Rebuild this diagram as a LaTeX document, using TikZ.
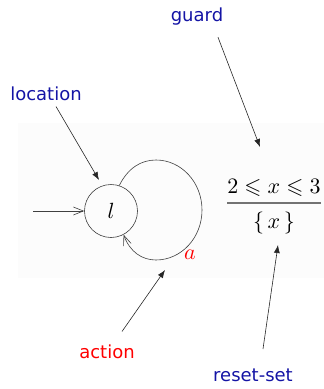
\RequirePackage{fix-cm}
\documentclass[tikz,border=0pt]{standalone}
\usepackage{amssymb}
\usepackage{fontspec}
\usetikzlibrary{arrows.meta}
\newfontfamily\lblfont{DejaVu Sans}
\definecolor{labelblue}{RGB}{20,20,165}
\newcommand{\ltmath}[1]{\scalebox{2.2}{$#1$}}

\begin{document}
\begin{tikzpicture}[x=1pt,y=-1pt,
  lbl/.style={font=\lblfont\fontsize{18}{21}\selectfont,text=labelblue},
  mth/.style={inner sep=0pt},
  state/.style={draw=black!75,circle,line width=0.6pt,minimum size=53pt,inner sep=0pt},
  trans/.style={draw=black!75,line width=0.6pt,-{Straight Barb[length=10pt,width=8pt,line width=0.6pt]}},
  ann/.style={draw=black!85,line width=0.6pt,-{Latex[length=8pt,width=6pt]}}]
\useasboundingbox (0,0) rectangle (324,389);
\fill[black!1] (18,123) rectangle (324,278);
% labels
\node[lbl] (guardlbl) at (197,17) {guard};
\node[lbl] (loclbl) at (46,94) {location};
\node[lbl,text=red] (actlbl) at (107,352) {action};
\node[lbl] (resetlbl) at (253,375) {reset-set};
% automaton
\node[state] (l) at (111,211) {\ltmath{l}};
\node[mth,text=red] (act) at (190,255) {\ltmath{a}};
\node[mth] (grd) at (274,188) {\ltmath{2\leqslant x\leqslant 3}};
\node[mth] (rst) at (274,223) {\ltmath{\{\,x\,\}}};
\draw[black!55,line width=1.6pt] (227,203) -- (321,203);
\coordinate (init) at (33,211);
\draw[trans] (init) -- (l);
\draw[trans] (l.72) .. controls (128,168) and (141,160) .. (156,160)
  .. controls (181,160) and (202,182) .. (202,210)
  .. controls (202,238) and (181,260) .. (156,260)
  .. controls (142,260) and (130,252) .. (l.-62);
% pointers
\coordinate (gtip) at (260,147);
\coordinate (ltip) at (99,180);
\coordinate (atip) at (165,270);
\coordinate (rtip) at (278,245);
\draw[ann] ([xshift=21pt,yshift=-8pt]guardlbl.south) -- (gtip);
\draw[ann] ([xshift=10pt,yshift=-2pt]loclbl.south) -- (ltip);
\draw[ann] ([xshift=15pt,yshift=10pt]actlbl.north) -- (atip);
\draw[ann] ([xshift=10pt,yshift=16pt]resetlbl.north) -- (rtip);
\end{tikzpicture}
\end{document}
